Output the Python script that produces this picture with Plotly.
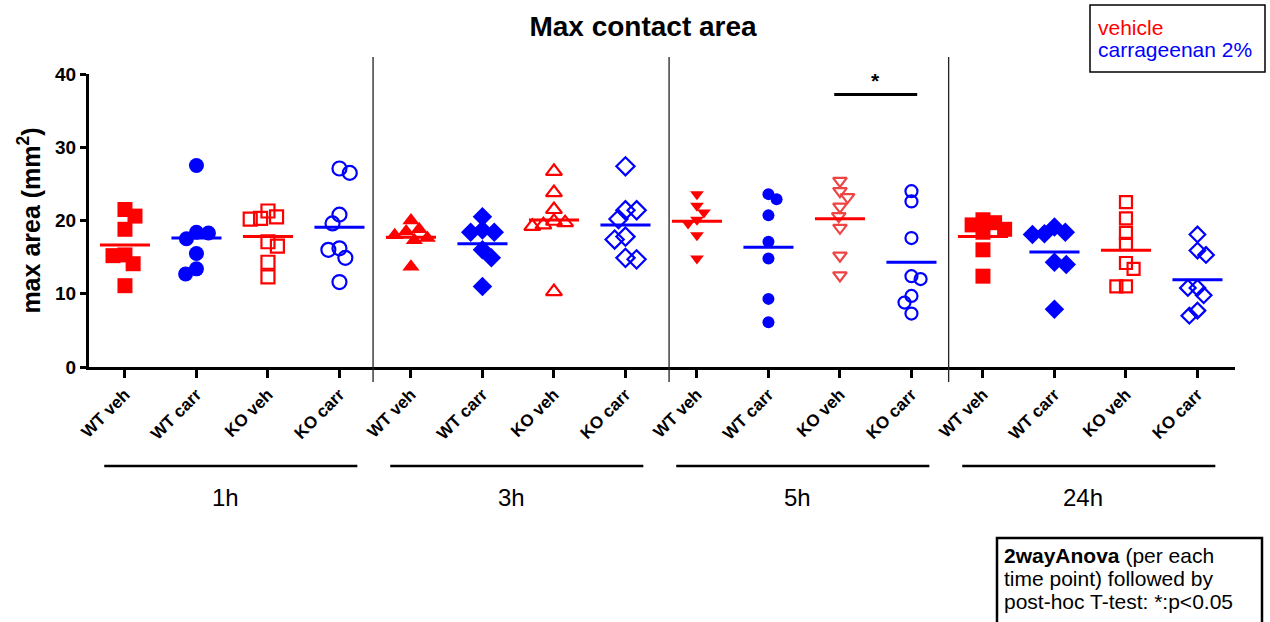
import plotly.graph_objects as go
import math

# ---------------- data ----------------
categories = ["WT veh", "WT carr", "KO veh", "KO carr"]
time_points = ["1h", "3h", "5h", "24h"]
y_ticks = [0, 10, 20, 30, 40]

h1_wt_veh = [21.5, 20.6, 18.8, 15.3, 15.2, 14.1, 11.1]
h1_wt_carr = [27.5, 18.4, 18.3, 17.5, 15.5, 13.4, 12.7]
h1_ko_veh = [21.3, 20.5, 20.3, 20.2, 17.1, 16.5, 14.3, 12.3]
h1_ko_carr = [27.1, 26.5, 20.8, 19.6, 16.2, 16.0, 14.9, 11.6]

h3_wt_veh = [20.0, 18.8, 18.5, 18.0, 17.6, 17.3, 13.7]
h3_wt_carr = [20.5, 18.7, 18.4, 18.4, 16.0, 14.9, 11.0]
h3_ko_veh = [26.7, 23.8, 21.5, 19.9, 19.7, 19.4, 19.2, 10.3]
h3_ko_carr = [27.4, 21.4, 21.4, 20.2, 17.8, 17.4, 14.9, 14.7]

h5_wt_veh = [23.6, 22.0, 21.1, 20.1, 19.6, 18.0, 14.8]
h5_wt_carr = [23.6, 22.9, 20.7, 17.1, 14.8, 9.3, 6.1]
h5_ko_veh = [25.4, 24.0, 23.2, 21.9, 20.6, 19.0, 15.2, 12.5]
h5_ko_carr = [24.0, 22.6, 17.6, 12.4, 12.0, 9.7, 8.8, 7.3]

h24_wt_veh = [20.1, 19.7, 19.4, 18.8, 18.4, 16.0, 12.4]
h24_wt_carr = [19.1, 18.4, 18.2, 18.1, 14.3, 14.0, 7.9]
h24_ko_veh = [22.5, 20.3, 18.3, 16.8, 14.2, 13.4, 11.0, 11.0]
h24_ko_carr = [18.1, 15.9, 15.3, 10.8, 10.8, 9.8, 7.7, 7.0]

sig_bar_value = 37.2  # "*" comparison at 5h: KO veh vs KO carr

series = [
    h1_wt_veh, h1_wt_carr, h1_ko_veh, h1_ko_carr,
    h3_wt_veh, h3_wt_carr, h3_ko_veh, h3_ko_carr,
    h5_wt_veh, h5_wt_carr, h5_ko_veh, h5_ko_carr,
    h24_wt_veh, h24_wt_carr, h24_ko_veh, h24_ko_carr,
]

legend_lines = [("vehicle", "#FF0000"), ("carrageenan 2%", "#0000FF")]
note_lines = ["<b>2wayAnova</b> (per each", "time point) followed by",
              "post-hoc T-test: *:p&lt;0.05"]

# ---------------- styles ----------------
RED = "#FF0000"
BLUE = "#0000FF"
SALMON = "#EE4444"
FONT = "Arial, Liberation Sans"
styles = [
    dict(symbol="square", color=RED, size=15),
    dict(symbol="circle", color=BLUE, size=15),
    dict(symbol="square-open", color=RED, size=13),
    dict(symbol="circle-open", color=BLUE, size=14),
    dict(symbol="triangle-up", color=RED, size=15),
    dict(symbol="diamond", color=BLUE, size=15),
    dict(symbol="triangle-up-open", color=RED, size=14),
    dict(symbol="diamond-open", color=BLUE, size=14),
    dict(symbol="triangle-down", color=RED, size=12),
    dict(symbol="circle", color=BLUE, size=12),
    dict(symbol="triangle-down-open", color=SALMON, size=12),
    dict(symbol="circle-open", color=BLUE, size=12),
    dict(symbol="square", color=RED, size=15),
    dict(symbol="diamond", color=BLUE, size=15),
    dict(symbol="square-open", color=RED, size=12),
    dict(symbol="diamond-open", color=BLUE, size=12),
]

W, H = 1270, 622
ML, MR, MT, MB = 89, 35, 74, 255
plot_w = W - ML - MR
plot_h = H - MT - MB
x_range = [-0.503, 15.525]
y_range = [0, 40]
px_per_cat = plot_w / (x_range[1] - x_range[0])
px_per_unit = plot_h / (y_range[1] - y_range[0])


def swarm(values, diam):
    """Compact beeswarm: horizontal offsets (category units) with minimal |offset|."""
    order = sorted(range(len(values)), key=lambda i: -values[i])
    placed = []
    offs = [0.0] * len(values)
    for i in order:
        yp = values[i] * px_per_unit
        cands = [0.0]
        for px, py in placed:
            dy = yp - py
            if abs(dy) < diam:
                dx = math.sqrt(diam ** 2 - dy ** 2)
                cands += [px + dx, px - dx]
        bias = sum(p for p, _ in placed)
        feas = [c for c in cands
                if all((c - px) ** 2 + (yp - py) ** 2 >= diam ** 2 - 1e-6 for px, py in placed)]
        best = min(feas, key=lambda c: (round(abs(c), 3), c * (1 if bias <= 0 else -1) < 0))
        offs[i] = best / px_per_cat
        placed.append((best, yp))
    return offs


fig = go.Figure()
n_cat = len(categories)
tick_vals = list(range(len(series)))
tick_text = [categories[i % n_cat] for i in tick_vals]

mean_x = {RED: [], BLUE: []}
mean_y = {RED: [], BLUE: []}
for idx, (vals, st) in enumerate(zip(series, styles)):
    offs = swarm(vals, st["size"] * 0.8)
    open_m = st["symbol"].endswith("open")
    fig.add_trace(go.Scatter(
        x=[idx + o for o in offs], y=vals, mode="markers",
        marker=dict(symbol=st["symbol"], size=st["size"], color=st["color"],
                    line=dict(width=2.2 if open_m else 0, color=st["color"])),
        showlegend=False, hoverinfo="y"))
    m = sum(vals) / len(vals)
    c = RED if st["color"] == SALMON else st["color"]
    mean_x[c] += [idx - 0.35, idx + 0.35, None]
    mean_y[c] += [m, m, None]

for c in (RED, BLUE):
    fig.add_trace(go.Scatter(x=mean_x[c], y=mean_y[c], mode="lines",
                             line=dict(color=c, width=3), showlegend=False,
                             hoverinfo="skip"))

# significance bar
fig.add_trace(go.Scatter(x=[9.92, 11.08], y=[sig_bar_value, sig_bar_value], mode="lines",
                         line=dict(color="black", width=3), showlegend=False,
                         hoverinfo="skip", cliponaxis=False))
fig.add_annotation(x=10.5, y=sig_bar_value, yshift=1, text="<b>*</b>", showarrow=False,
                   yanchor="bottom", font=dict(size=21, color="black", family=FONT))


def py2paper(py):
    return (MT + plot_h - py) / plot_h


def px2paper(px):
    return (px - ML) / plot_w


# vertical dividers between time points
for xd in [3.47, 7.61, 11.52]:
    fig.add_shape(type="line", xref="x", yref="paper", x0=xd, x1=xd,
                  y0=py2paper(382), y1=py2paper(57),
                  line=dict(color="#222222", width=1.3))

# group underlines and labels
for g, name in enumerate(time_points):
    first = g * n_cat
    last = first + n_cat - 1
    fig.add_shape(type="line", xref="x", yref="paper", x0=first - 0.29, x1=last + 0.25,
                  y0=py2paper(466), y1=py2paper(466), line=dict(color="black", width=2.5))
    fig.add_annotation(x=(first + last) / 2 - 0.1, y=py2paper(497), xref="x", yref="paper",
                       text=name, showarrow=False, yanchor="middle",
                       font=dict(size=24, color="black", family=FONT))

# legend box
fig.add_shape(type="rect", xref="paper", yref="paper",
              x0=px2paper(1090), x1=px2paper(1265), y0=py2paper(72), y1=py2paper(5),
              line=dict(color="black", width=1.5), fillcolor="white")
for k, (txt, col) in enumerate(legend_lines):
    fig.add_annotation(xref="paper", yref="paper", x=px2paper(1096), y=py2paper(27 + 23 * k),
                       xanchor="left", yanchor="middle", showarrow=False, text=txt,
                       font=dict(size=21, color=col, family=FONT))

# stats note box
fig.add_shape(type="rect", xref="paper", yref="paper",
              x0=px2paper(997), x1=px2paper(1262), y0=py2paper(640), y1=py2paper(538),
              line=dict(color="black", width=2.5))
for k, txt in enumerate(note_lines):
    fig.add_annotation(xref="paper", yref="paper", x=px2paper(1002), y=py2paper(555 + 23 * k),
                       xanchor="left", yanchor="middle", showarrow=False, text=txt,
                       font=dict(size=21, color="black", family=FONT))

fig.update_layout(
    width=W, height=H,
    margin=dict(l=ML, r=MR, t=MT, b=MB, autoexpand=False),
    paper_bgcolor="white", plot_bgcolor="white",
    title=dict(text="<b>Max contact area</b>", x=643 / W, xanchor="center",
               y=1 - 26 / H, yanchor="middle", yref="container",
               font=dict(size=28, color="black", family=FONT)),
    font=dict(family=FONT, color="black"),
    xaxis=dict(range=x_range, tickmode="array", tickvals=tick_vals, ticktext=tick_text,
               tickangle=-45, ticks="outside", ticklen=8, tickwidth=2.5, tickcolor="black",
               showline=True, linewidth=3, linecolor="black", showgrid=False,
               zeroline=False, fixedrange=True,
               tickfont=dict(size=17, weight="bold", color="black", family=FONT)),
    yaxis=dict(range=y_range, tickmode="array", tickvals=y_ticks,
               ticks="outside", ticklen=6, tickwidth=2.5, tickcolor="black",
               showline=True, linewidth=3, linecolor="black", showgrid=False,
               zeroline=False, fixedrange=True,
               tickfont=dict(size=19, weight="bold", color="black", family=FONT),
               title=dict(text="<b>max area (mm<sup>2</sup>)</b>", standoff=8,
                          font=dict(size=25, color="black", family=FONT))),
)

fig.write_html("out.html")
